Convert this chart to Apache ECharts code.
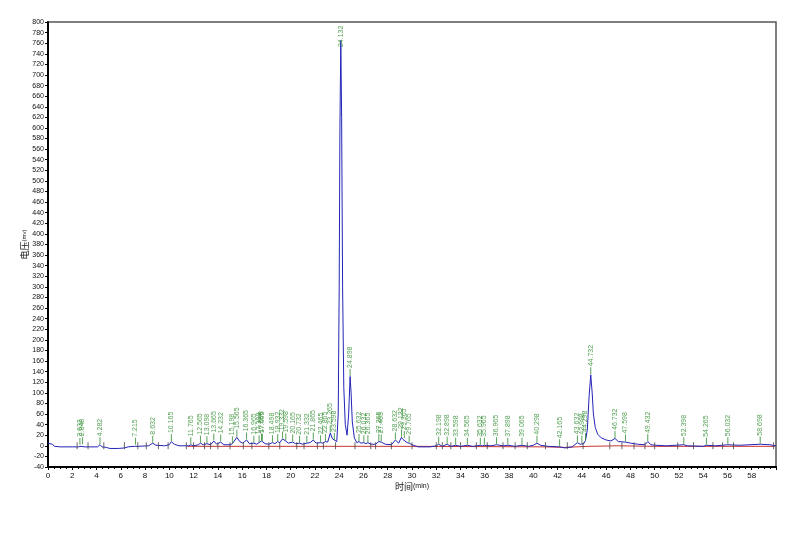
<!DOCTYPE html>
<html>
<head>
<meta charset="utf-8">
<script src="https://cdn.jsdelivr.net/npm/echarts/dist/echarts.min.js"></script>
<style>
  html, body { margin: 0; padding: 0; background: #fff; }
  #chart { width: 800px; height: 546px; }
</style>
</head>
<body>
<div id="chart"></div>
<script>
  // 信号 (时间 min, 电压 mv)
  var sigT = [0, 0.15, 0.35, 0.55, 1.0, 2.0, 2.5, 2.632, 2.72, 2.848, 3.0, 4.1, 4.282, 4.45, 4.8, 5.1, 5.8, 6.3, 6.6, 7.1,
    7.215, 7.4, 8.3, 8.632, 8.9, 9.6, 10.0, 10.165, 10.4, 10.8, 11.6, 11.765, 12.0, 12.4, 12.565, 12.8, 13.098, 13.4, 13.665, 13.9,
    14.232, 14.5, 15.0, 15.198, 15.35, 15.565, 15.8, 16.05, 16.365, 16.6, 16.965, 17.2, 17.398, 17.598, 17.665, 17.9, 18.2, 18.498, 18.7, 18.932,
    19.1, 19.332, 19.598, 19.8, 20.165, 20.4, 20.732, 21.0, 21.332, 21.6, 21.865, 22.1, 22.465, 22.65, 22.865, 23.05, 23.265, 23.45, 23.598, 23.8,
    23.92, 24.0, 24.06, 24.132, 24.2, 24.28, 24.38, 24.5, 24.65, 24.78, 24.898, 24.98, 25.08, 25.25, 25.45, 25.632, 25.8, 26.032, 26.2, 26.365,
    26.6, 27.0, 27.265, 27.38, 27.465, 27.8, 28.3, 28.632, 28.9, 29.132, 29.25, 29.365, 29.6, 29.765, 30.0, 30.5, 31.5, 32.0, 32.198, 32.5,
    32.898, 33.2, 33.598, 34.0, 34.565, 35.0, 35.632, 35.8, 35.965, 36.5, 36.965, 37.5, 37.898, 38.5, 39.065, 39.6, 40.0, 40.298, 40.6, 41.2,
    42.165, 42.6, 43.2, 43.632, 43.85, 43.998, 44.15, 44.298, 44.45, 44.6, 44.732, 44.85, 44.95, 45.1, 45.3, 45.6, 46.0, 46.4, 46.732, 47.0,
    47.598, 48.0, 48.6, 49.2, 49.432, 49.7, 50.1, 51.0, 52.398, 52.7, 54.0, 54.265, 55.0, 56.032, 57.0, 58.698, 59.5, 60];
  var sigV = [5, 5, 3, -1, -2, -2, -2, 1, -1, 2, -2, -2, 2, -2, -3, -5, -5, -4, -2, -1,
    1, -1, 0, 5, 1, 0, 2, 8, 3, 0, 0, 2, 0, 2, 5, 2, 4, 2, 9, 3,
    7, 2, 2, 4, 3, 16, 8, 5, 11, 4, 5, 3, 6, 9, 8, 4, 3, 6, 4, 8,
    6, 13, 9, 5, 7, 4, 5, 3, 5, 6, 11, 5, 6, 5, 8, 7, 24, 13, 10, 8,
    60, 300, 600, 765, 620, 300, 110, 40, 20, 60, 131, 100, 45, 15, 6, 8, 5, 6, 4, 6,
    3, 3, 8, 5, 7, 3, 2, 11, 5, 16, 12, 14, 6, 5, 2, -2, -2, 0, 3, -1,
    3, -1, 1, -1, 1, -1, 1, 0, 1, 0, 2, 0, 1, -1, 1, -1, 1, 5, 1, -1,
    -2, -4, -2, 6, 3, 5, 4, 10, 30, 95, 134, 100, 60, 35, 22, 15, 11, 9, 14, 8,
    7, 5, 3, 2, 8, 2, 1, 0, 2, 0, -1, 1, 0, 2, 1, 3, 2, 0];

  // 峰保留时间
  var peakT = [2.632, 2.848, 4.282, 7.215, 8.632, 10.165, 11.765, 12.565, 13.098, 13.665, 14.232, 15.198, 15.565, 16.365, 16.965,
    17.398, 17.598, 17.665, 18.498, 18.932, 19.332, 19.598, 20.165, 20.732, 21.332, 21.865, 22.465, 22.865, 23.265, 23.598,
    24.132, 24.898, 25.632, 26.032, 26.365, 27.265, 27.465, 28.632, 29.132, 29.365, 29.765, 32.198, 32.898, 33.598, 34.565,
    35.632, 35.965, 36.965, 37.898, 39.065, 40.298, 42.165, 43.632, 43.998, 44.298, 44.732, 46.732, 47.598, 49.432, 52.398,
    54.265, 56.032, 58.698];

  // 基线
  var baseT = [11.5, 20, 30, 41, 42.6, 44.5, 47, 50, 59.9];
  var baseV = [-1, -1, -1, -2, -3, -1, 0, -1, -1];

  // 积分事件标记
  var eventT = [2.4, 3.3, 4.6, 6.3, 7.4, 8.1, 9.1, 9.9, 11.4, 12.0, 12.9, 13.4, 14.0, 15.0, 16.1, 16.8, 18.2, 19.1, 20.5,
    21.1, 22.2, 22.7, 23.7, 25.3, 26.6, 27.0, 28.3, 30.0, 32.0, 32.5, 33.2, 34.0, 35.3, 36.2, 37.5, 38.5, 39.5, 41.0,
    42.8, 44.1, 46.3, 47.3, 48.3, 49.2, 50.0, 51.9, 53.2, 54.8, 55.6, 56.5, 59.8];

  var signal = sigT.map(function (t, i) { return [t, sigV[i]]; });
  var peaks = peakT.map(function (t) {
    var h = sigV[sigT.indexOf(t)];
    if (h > 700) {
      // 主峰标签压在峰顶上, 不出图框
      return { value: [t, h], label: { distance: -14 }, itemStyle: { color: 'rgba(0,0,0,0)' } };
    }
    return [t, h];
  });
  var baseline = baseT.map(function (t, i) { return [t, baseV[i]]; });
  var events = eventT.map(function (t) { return [t, 0]; });

  var chart = echarts.init(document.getElementById('chart'));
  chart.setOption({
    animation: false,
    textStyle: { fontFamily: 'Liberation Sans, Arial, sans-serif' },
    grid: {
      left: 48, right: 24, top: 22, bottom: 79,
      show: true, borderColor: '#555', borderWidth: 1.5
    },
    xAxis: {
      type: 'value',
      min: 0, max: 60, interval: 2,
      name: '{a|时间}{b|(min)}',
      nameLocation: 'middle',
      nameGap: 15,
      nameMoveOverlap: false,
      nameTextStyle: {
        rich: {
          a: { fontFamily: 'Noto Sans CJK SC', fontSize: 9, color: '#111' },
          b: { fontFamily: 'Liberation Sans', fontSize: 7, color: '#111' }
        }
      },
      axisLine: { onZero: false, lineStyle: { color: '#000', width: 2 } },
      axisTick: { length: 3, lineStyle: { color: '#000' } },
      minorTick: { show: true, splitNumber: 4, length: 2, lineStyle: { color: '#000' } },
      axisLabel: { fontSize: 8, color: '#111', margin: 5, showMaxLabel: false },
      splitLine: { show: false }
    },
    yAxis: {
      type: 'value',
      min: -40, max: 800, interval: 20,
      name: '{a|电压}{b|(mv)}',
      nameLocation: 'middle',
      nameGap: 19,
      nameMoveOverlap: false,
      nameTextStyle: {
        rich: {
          a: { fontFamily: 'Noto Sans CJK SC', fontSize: 9, color: '#111' },
          b: { fontFamily: 'Liberation Sans', fontSize: 6, color: '#111' }
        }
      },
      axisLine: { show: true, lineStyle: { color: '#000', width: 2 } },
      axisTick: { show: true, length: 3, lineStyle: { color: '#000' } },
      axisLabel: { fontSize: 7, color: '#111', margin: 4 },
      splitLine: { show: false }
    },
    series: [
      {
        name: 'baseline',
        type: 'line',
        data: baseline,
        symbol: 'none',
        lineStyle: { color: '#cc3333', width: 1 },
        z: 2
      },
      {
        name: 'signal',
        type: 'line',
        data: signal,
        symbol: 'none',
        lineStyle: { color: '#2323b8', width: 1 },
        z: 3
      },
      {
        name: 'events',
        type: 'scatter',
        data: events,
        symbol: 'rect',
        symbolSize: [1, 7],
        itemStyle: { color: '#444' },
        silent: true,
        z: 4
      },
      {
        name: 'peaks',
        type: 'scatter',
        data: peaks,
        symbol: 'rect',
        symbolSize: [1, 7],
        symbolOffset: [0, -4],
        itemStyle: { color: '#2e8b2e' },
        label: {
          show: true,
          position: 'top',
          rotate: 90,
          align: 'left',
          verticalAlign: 'middle',
          distance: 1,
          fontSize: 7,
          color: '#2a8a2a',
          formatter: function (p) { return p.value[0].toFixed(3); }
        },
        silent: true,
        z: 5
      }
    ]
  });
</script>
</body>
</html>
